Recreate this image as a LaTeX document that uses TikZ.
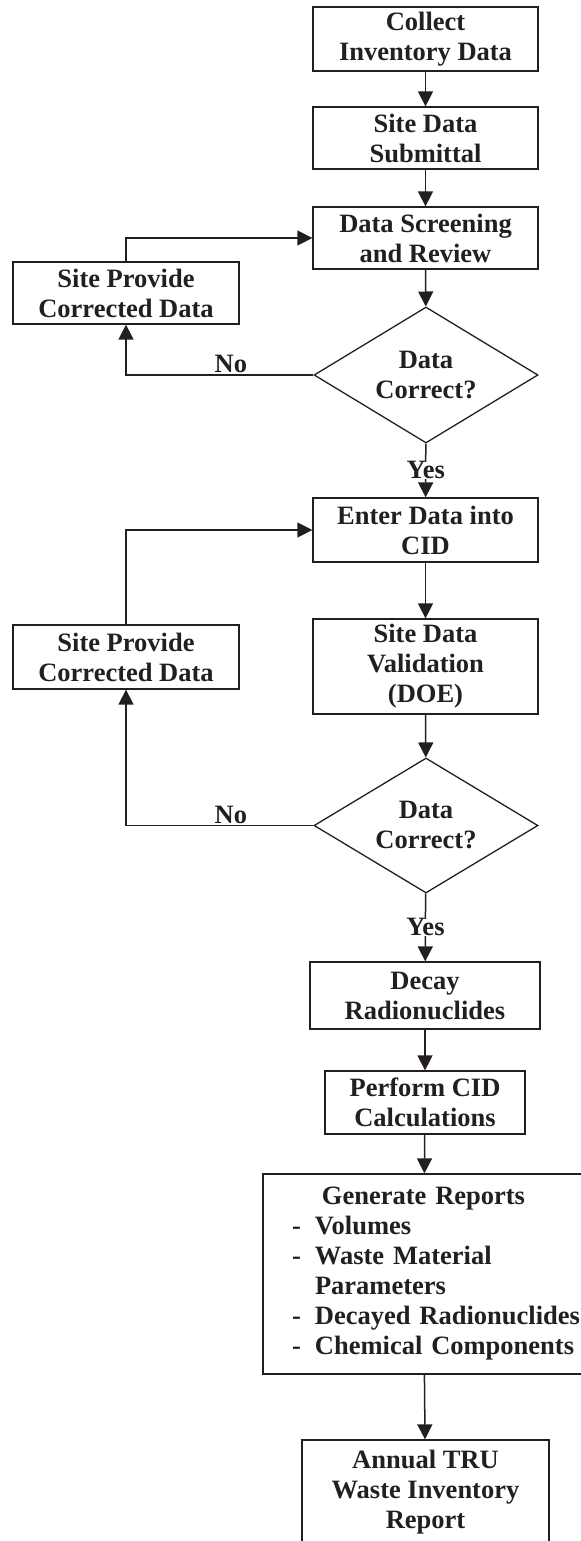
\documentclass[tikz,border=0pt]{standalone}
\usepackage{fontspec}
\setmainfont{Liberation Serif}
\usetikzlibrary{shapes.geometric,arrows.meta}
\definecolor{ink}{RGB}{35,31,32}

\begin{document}
\begin{tikzpicture}[x=1bp,y=-1bp,color=ink,line width=1.5bp,
    >={Triangle[length=15bp,width=15bp]},
    font=\fontsize{26.5bp}{30bp}\selectfont\bfseries]
\clip (0,0) rectangle (581,1541);
\begin{scope}[every node/.style={rectangle,draw,line width=1.3bp,align=center,inner sep=0pt,minimum width=225bp}]
    \node[minimum height=64bp] (1) at (425.5,39) {Collect\\Inventory Data};
    \node[minimum height=62bp] (2) at (425.5,138) {Site Data\\Submittal};
    \node[minimum height=62bp] (3) at (425.5,238) {Data Screening\\and Review};
    \node[minimum width=226bp,minimum height=62bp] (4) at (126,293) {Site Provide\\Corrected Data};
    \node[diamond,aspect=1.65,minimum width=224bp,minimum height=136bp] (5) at (426,375) {Data\\Correct?};
    \node[minimum height=64bp] (6) at (425.5,530) {Enter Data into\\CID};
    \node[minimum width=226bp,minimum height=64bp] (7) at (126,657) {Site Provide\\Corrected Data};
    \node[minimum height=95bp] (8) at (425.5,666.5) {Site Data\\Validation\\(DOE)};
    \node[diamond,aspect=1.65,minimum width=224bp,minimum height=135bp] (9) at (426,825.5) {Data\\Correct?};
    \node[minimum width=230bp,minimum height=67bp] (10) at (425,995.5) {Decay\\Radionuclides};
    \node[minimum width=200bp,minimum height=63bp] (11) at (425,1102.5) {Perform CID\\Calculations};
    \node[minimum width=321bp,minimum height=200bp,text width=321bp,align=left] (12) at (423.5,1274)
        {\makebox[321bp]{Generate Reports}\\
         \hspace*{29bp}\makebox[23bp][l]{-}Volumes\\
         \hspace*{29bp}\makebox[23bp][l]{-}Waste Material\\
         \hspace*{52bp}Parameters\\
         \hspace*{29bp}\makebox[23bp][l]{-}Decayed Radionuclides\\
         \hspace*{29bp}\makebox[23bp][l]{-}Chemical Components};
    \node[minimum width=247bp,minimum height=105bp] (13) at (425.5,1492.5) {Annual TRU\\Waste Inventory\\Report};
\end{scope}

\draw[->] (1) -- (2);
\draw[->] (2) -- (3);
\draw[->] (3) -- (5);
\draw[->] (5.west) -| node[above,pos=0.22,inner sep=1bp] {No} (4.south);
\draw[->] (4.north) |- (3.west);
\draw[->] (5) -- node[fill=white,inner sep=0pt] {Yes} (6);
\draw[->] (6) -- (8);
\draw[->] (8) -- (9);
\draw[->] (9.west) -| node[above,pos=0.22,inner sep=1bp] {No} (7.south);
\draw[->] (7.north) |- (6.west);
\draw[->] (9) -- node[fill=white,inner sep=0pt] {Yes} (10);
\draw[->] (10) -- (11);
\draw[->] (11) -- (12);
\draw[->] (12) -- (13);
\end{tikzpicture}
\end{document}
